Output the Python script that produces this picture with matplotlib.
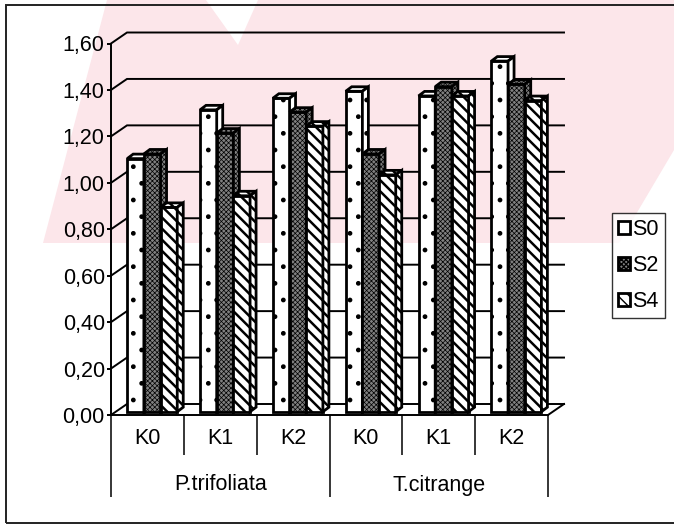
import matplotlib
matplotlib.use("Agg")
import matplotlib.pyplot as plt
import matplotlib.transforms as mtransforms
from matplotlib.patches import Polygon, Rectangle
from matplotlib.ticker import FuncFormatter, FixedLocator
import numpy as np

# ---- data -------------------------------------------------------------
categories = ["K0", "K1", "K2", "K0", "K1", "K2"]
groups = ["P.trifoliata", "T.citrange"]
series_names = ["S0", "S2", "S4"]
s0 = [1.09, 1.30, 1.35, 1.38, 1.36, 1.51]
s2 = [1.11, 1.20, 1.29, 1.11, 1.40, 1.41]
s4 = [0.88, 0.93, 1.23, 1.02, 1.36, 1.34]
yticks = [0.0, 0.2, 0.4, 0.6, 0.8, 1.0, 1.2, 1.4, 1.6]

# ---- figure -----------------------------------------------------------
W, H, DPI = 674, 525, 100
plt.rcParams["font.family"] = ["Liberation Sans", "DejaVu Sans"]
FS = 15.5

fig = plt.figure(figsize=(W / DPI, H / DPI), dpi=DPI)
fig.patch.set_facecolor("white")


def fx(px):
    return px / W


def fy(py):
    return 1 - py / H


# faint pink stamp behind the chart
stamp = Polygon([(fx(107), fy(0)), (fx(674), fy(0)), (fx(674), fy(150)),
                 (fx(619), fy(243)), (fx(43), fy(243))],
                closed=True, transform=fig.transFigure,
                facecolor="#fce6ea", edgecolor="none", zorder=0)
fig.add_artist(stamp)
notch = Polygon([(fx(206), fy(0)), (fx(258), fy(0)), (fx(238), fy(45))],
                closed=True, transform=fig.transFigure,
                facecolor="white", edgecolor="none", zorder=0)
fig.add_artist(notch)

# outer chart border
fig.add_artist(Rectangle((fx(6), fy(523)), 1.0, fy(5) - fy(523),
                         transform=fig.transFigure, fill=False,
                         edgecolor="#222222", linewidth=1.4, zorder=1))

ax = fig.add_axes([fx(111), fy(415), fx(548) - fx(111), (415 - 43.5) / H])
ax.set_xlim(-0.5, 5.5)
ax.set_ylim(0, 1.6)
ax.patch.set_visible(False)
for side in ("top", "right"):
    ax.spines[side].set_visible(False)
for side in ("left", "bottom"):
    ax.spines[side].set_linewidth(1.4)
    ax.spines[side].set_color("black")

# pixels per data unit, used for the pseudo-3D depth
p0 = ax.transData.transform((0, 0))
p1 = ax.transData.transform((1, 1))
ux, uy = p1[0] - p0[0], p1[1] - p0[1]
wall_dx, wall_dy = 16 / ux, 11 / uy      # back wall offset
front_dx, front_dy = 4.8 / ux, 3.3 / uy  # bar front plane offset
depth_dx, depth_dy = 6 / ux, 4.5 / uy    # bar depth

# back wall gridlines and floor
for t in yticks:
    ax.plot([-0.5, -0.5 + wall_dx, 5.5 + wall_dx], [t, t + wall_dy, t + wall_dy],
            color="black", linewidth=1.4, zorder=1, clip_on=False,
            solid_joinstyle="miter")
ax.plot([5.5, 5.5 + wall_dx], [0, wall_dy], color="black", linewidth=1.4,
        zorder=1, clip_on=False)

# y axis
ax.yaxis.set_major_locator(FixedLocator(yticks))
ax.yaxis.set_major_formatter(FuncFormatter(lambda v, _: f"{v:.2f}".replace(".", ",")))
ax.tick_params(axis="y", length=3, width=1.4, pad=1.5, labelsize=FS)
ax.set_xticks([])

# bars
styles = [
    dict(facecolor="white", hatch="."),
    dict(facecolor="#808080", hatch="xxxxxxx"),
    dict(facecolor="white", hatch="\\\\\\"),
]
hatch_lw = [1.0, 0.5, 1.8]
width = 0.229
offsets = [-width, 0.0, width]
xc = np.arange(len(categories))
handles = []


def set_hlw(p, lw):
    if hasattr(p, "set_hatch_linewidth"):
        p.set_hatch_linewidth(lw)


for s, vals in enumerate([s0, s2, s4]):
    z = 3 + s
    with plt.rc_context({"hatch.linewidth": hatch_lw[s]}):
        bars = ax.bar(xc + offsets[s] + front_dx, vals, bottom=front_dy,
                      width=width, edgecolor="black", linewidth=2.0,
                      zorder=z, clip_on=False, label=series_names[s],
                      **styles[s])
        for b in bars:
            set_hlw(b, hatch_lw[s])
        handles.append(bars)
        for x, v in zip(xc, vals):
            x0 = x + offsets[s] + front_dx - width / 2
            x1 = x0 + width
            top = front_dy + v
            cap = Polygon([(x0, top), (x1, top), (x1 + depth_dx, top + depth_dy),
                           (x0 + depth_dx, top + depth_dy)], closed=True,
                          edgecolor="black", linewidth=2.0, zorder=z,
                          clip_on=False, **styles[s])
            side = Polygon([(x1, front_dy), (x1 + depth_dx, front_dy + depth_dy),
                            (x1 + depth_dx, top + depth_dy), (x1, top)], closed=True,
                           edgecolor="black", linewidth=2.0, zorder=z,
                           clip_on=False, **styles[s])
            for p in (cap, side):
                set_hlw(p, hatch_lw[s])
                ax.add_patch(p)

# category table below the axis
ax_h = 415 - 43.5
tr = mtransforms.blended_transform_factory(ax.transData, ax.transAxes)
ax.vlines([0.5, 1.5, 3.5, 4.5], 0, -40 / ax_h, transform=tr, colors="black",
          linewidth=1.1, clip_on=False)
ax.vlines([-0.5, 2.5, 5.5], 0, -82 / ax_h, transform=tr, colors="black",
          linewidth=1.1, clip_on=False)
for x, lab in zip(xc, categories):
    ax.text(x, -23 / ax_h, lab, transform=tr, ha="center", va="center",
            fontsize=FS)
for g, lab in enumerate(groups):
    ax.text(g * 3 + 1, -70 / ax_h, lab, transform=tr, ha="center",
            va="center", fontsize=FS)

# legend
leg = fig.legend(handles=handles, labels=series_names, loc="upper left",
                 bbox_to_anchor=(fx(612), fy(213)), frameon=True,
                 fancybox=False, edgecolor="black", fontsize=FS,
                 handlelength=0.55, handleheight=0.55, handletextpad=0.1,
                 labelspacing=0.68, borderpad=0.3, borderaxespad=0)
leg.get_frame().set_linewidth(1.0)

fig.savefig("out.png", dpi=DPI, facecolor="white")
